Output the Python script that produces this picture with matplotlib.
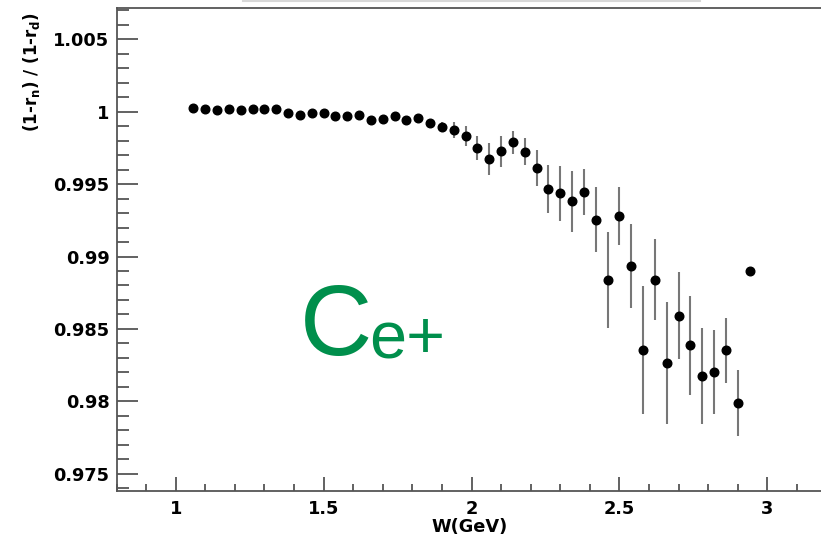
import matplotlib
matplotlib.use("Agg")
import matplotlib.pyplot as plt
from matplotlib.ticker import MultipleLocator, FixedLocator
from matplotlib.lines import Line2D
import numpy as np

# W bins (GeV)
w = [1.06, 1.10, 1.14, 1.18, 1.22, 1.26, 1.30, 1.34, 1.38, 1.42,
     1.46, 1.50, 1.54, 1.58, 1.62, 1.66, 1.70, 1.74, 1.78, 1.82,
     1.86, 1.90, 1.94, 1.98, 2.02, 2.06, 2.10, 2.14, 2.18, 2.22,
     2.26, 2.30, 2.34, 2.38, 2.42, 2.46, 2.50, 2.54, 2.58, 2.62,
     2.66, 2.70, 2.74, 2.78, 2.82, 2.86, 2.90, 2.94]

# (1-r_n)/(1-r_d)
ratio = [1.00023, 1.00020, 1.00010, 1.00020, 1.00015, 1.00020, 1.00020, 1.00020, 0.99988, 0.99977,
         0.99988, 0.99988, 0.99968, 0.99968, 0.99977, 0.99940, 0.99952, 0.99968, 0.99940, 0.99956,
         0.99919, 0.99896, 0.99873, 0.99832, 0.99749, 0.99673, 0.99726, 0.99788, 0.99724, 0.99611,
         0.99469, 0.99437, 0.99380, 0.99445, 0.99255, 0.98837, 0.99278, 0.98938, 0.98356, 0.98839,
         0.98266, 0.98590, 0.98386, 0.98174, 0.98200, 0.98352, 0.97988, 0.98901]

err = [0.0001, 0.0001, 0.0001, 0.0001, 0.0001, 0.0001, 0.0001, 0.0001, 0.0001, 0.0001,
       0.0001, 0.0001, 0.0001, 0.0001, 0.0001, 0.0001, 0.0001, 0.0001, 0.0001, 0.00015,
       0.0002, 0.00035, 0.00055, 0.0007, 0.00085, 0.0011, 0.00105, 0.00077, 0.00094, 0.00126,
       0.00166, 0.0019, 0.0021, 0.0016, 0.00226, 0.0033, 0.002, 0.0029, 0.0044, 0.0028,
       0.0042, 0.003, 0.0034, 0.0033, 0.0029, 0.00225, 0.0023, 0.0]

W_PX, H_PX = 821, 543
fig = plt.figure(figsize=(W_PX / 100, H_PX / 100), dpi=100)

# axes frame runs past the right edge of the picture (cropped)
ax = fig.add_axes([116.5 / W_PX, 52 / H_PX, 710 / W_PX, 482.7 / H_PX])

axis_col = '#555555'
ax.errorbar(w, ratio, yerr=err, fmt='o', color='black', markersize=6.2,
            ecolor='#777777', elinewidth=1.5, capsize=0, zorder=3)

ax.set_xlim(0.8, 3.2)
ax.set_ylim(0.97381, 1.00714)

ax.xaxis.set_major_locator(MultipleLocator(0.5))
ax.xaxis.set_minor_locator(MultipleLocator(0.1))
ax.yaxis.set_major_locator(FixedLocator([0.975, 0.98, 0.985, 0.99, 0.995, 1.0, 1.005]))
ax.yaxis.set_minor_locator(MultipleLocator(0.001))

ax.set_xticklabels([])
ax.set_yticklabels([])
ax.tick_params(axis='both', which='both', direction='in', color=axis_col, width=1.3,
               top=False, right=False)
ax.tick_params(axis='y', which='major', length=15)
ax.tick_params(axis='y', which='minor', length=8.5)
ax.tick_params(axis='x', which='major', length=10)
ax.tick_params(axis='x', which='minor', length=5)

for s in ax.spines.values():
    s.set_color(axis_col)
    s.set_linewidth(1.3)

tick_font = dict(family='DejaVu Sans', fontweight='bold', fontsize=12.8, color='black')
xt = [1, 1.5, 2, 2.5, 3]
xt_lab = ['1', '1.5', '2', '2.5', '3']
for v, lab in zip(xt, xt_lab):
    ax.annotate(lab, xy=(v, 0), xycoords=('data', 'axes fraction'),
                xytext=(0, -9), textcoords='offset pixels',
                ha='center', va='top', **tick_font)
yt = [0.975, 0.98, 0.985, 0.99, 0.995, 1.0, 1.005]
yt_lab = ['0.975', '0.98', '0.985', '0.99', '0.995', '1', '1.005']
for v, lab in zip(yt, yt_lab):
    ax.annotate(lab, xy=(0, v), xycoords=('axes fraction', 'data'),
                xytext=(-7, 0), textcoords='offset pixels',
                ha='right', va='center_baseline', **tick_font)

fig.text(470 / W_PX, 1 - 527 / H_PX, 'W(GeV)', ha='center', va='center',
         fontsize=12.8, fontweight='bold', family='DejaVu Sans')
fig.text(31 / W_PX, 1 - 12 / H_PX, r'(1-r$_\mathbf{n}$) / (1-r$_\mathbf{d}$)',
         rotation=90, ha='center', va='top', fontsize=12, fontweight='bold',
         family='DejaVu Sans')

# green label
green = '#008F4C'
fig.text(300 / W_PX, 1 - 355 / H_PX, 'C', color=green, fontsize=72,
         family='Liberation Sans', ha='left', va='baseline')
fig.text(369 / W_PX, 1 - 357 / H_PX, 'e+', color=green, fontsize=48,
         family='Liberation Sans', ha='left', va='baseline')

# faint line at the very top left by the crop
fig.add_artist(Line2D([243 / W_PX, 700 / W_PX], [1 - 0.8 / H_PX, 1 - 0.8 / H_PX],
                      color='#d8d8d8', linewidth=1.5))

fig.savefig('out.png', dpi=100)
